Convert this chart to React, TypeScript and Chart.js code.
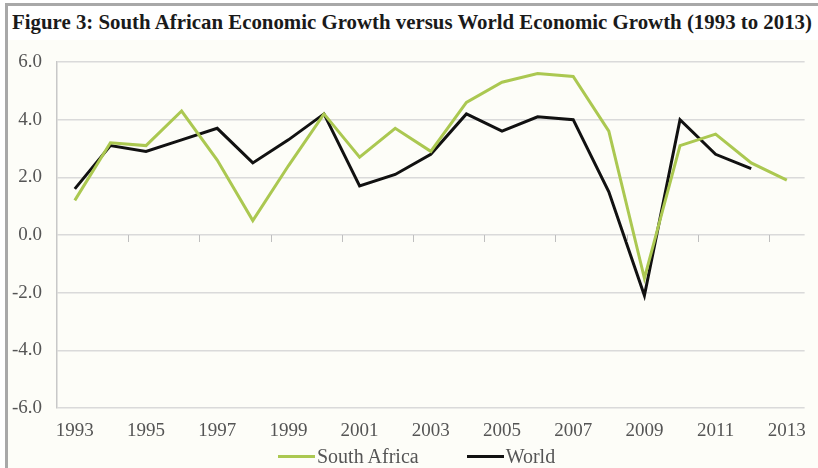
import React, { useEffect, useLayoutEffect, useRef, useState } from 'react';
import { Chart, registerables } from 'chart.js';

Chart.register(...registerables);

const TITLE = 'Figure 3: South African Economic Growth versus World Economic Growth (1993 to 2013)';

const years = [
  '1993', '1994', '1995', '1996', '1997', '1998', '1999', '2000', '2001', '2002', '2003',
  '2004', '2005', '2006', '2007', '2008', '2009', '2010', '2011', '2012', '2013',
];

const southAfrica = [
  1.2, 3.2, 3.1, 4.3, 2.6, 0.5, 2.4, 4.2, 2.7, 3.7, 2.9,
  4.6, 5.3, 5.6, 5.5, 3.6, -1.5, 3.1, 3.5, 2.5, 1.9,
];

const world = [
  1.6, 3.1, 2.9, 3.3, 3.7, 2.5, 3.3, 4.2, 1.7, 2.1, 2.8,
  4.2, 3.6, 4.1, 4.0, 1.5, -2.1, 4.0, 2.8, 2.3, null,
];

const yMin = -6;
const yMax = 6;
const yStep = 2;

const GREEN = '#abc851';
const BLACK = '#111111';
const GRID = '#dadada';
const TEXT = '#555555';
const FONT = '"Liberation Serif", "Times New Roman", "DejaVu Serif", serif';

// Short tick marks hanging below the zero line, every second category boundary
const zeroAxisTicks = {
  id: 'zeroAxisTicks',
  afterDatasetsDraw(chart: any) {
    const x = chart.scales.x;
    const y = chart.scales.y;
    const y0 = y.getPixelForValue(0);
    const half = (x.getPixelForValue(1) - x.getPixelForValue(0)) / 2;
    const ctx = chart.ctx;
    ctx.save();
    ctx.strokeStyle = '#bfbfbf';
    ctx.lineWidth = 1;
    ctx.beginPath();
    for (let i = 1; i < years.length - 1; i += 2) {
      const px = Math.round(x.getPixelForValue(i) + half) + 0.5;
      ctx.moveTo(px, y0);
      ctx.lineTo(px, y0 + 7);
    }
    ctx.stroke();
    ctx.restore();
  },
};

export default function App() {
  const canvasRef = useRef<HTMLCanvasElement | null>(null);
  const titleRef = useRef<HTMLSpanElement | null>(null);
  const [titleScale, setTitleScale] = useState(1);

  useLayoutEffect(() => {
    document.body.style.margin = '0';
    const el = titleRef.current;
    if (el) {
      const w = el.getBoundingClientRect().width / titleScale;
      if (w > 0) setTitleScale(800 / w);
    }
    // eslint-disable-next-line react-hooks/exhaustive-deps
  }, []);

  useEffect(() => {
    let chart: Chart | null = null;
    let cancelled = false;

    const build = () => {
      if (cancelled || !canvasRef.current) return;
      chart = new Chart(canvasRef.current, {
        type: 'line',
        data: {
          labels: years,
          datasets: [
            {
              label: 'South Africa',
              data: southAfrica,
              borderColor: GREEN,
              backgroundColor: GREEN,
              borderWidth: 3,
              pointRadius: 0,
              tension: 0,
            },
            {
              label: 'World',
              data: world,
              borderColor: BLACK,
              backgroundColor: BLACK,
              borderWidth: 3,
              pointRadius: 0,
              tension: 0,
            },
          ],
        },
        options: {
          animation: false,
          responsive: false,
          maintainAspectRatio: false,
          layout: { padding: { top: 62, right: 8, bottom: 18, left: 0 } },
          plugins: {
            legend: { display: false },
            title: { display: false },
            tooltip: { enabled: false },
          },
          scales: {
            x: {
              type: 'category',
              offset: true,
              grid: { display: false, drawTicks: false },
              border: { display: false },
              ticks: {
                autoSkip: false,
                maxRotation: 0,
                padding: 12,
                color: TEXT,
                font: { family: FONT, size: 19 },
                callback: (_v: any, i: number) => (i % 2 === 0 ? years[i] : ''),
              },
              afterFit: (s: any) => {
                s.height = 42;
              },
            },
            y: {
              min: yMin,
              max: yMax,
              grid: { color: GRID, lineWidth: 1.5, drawTicks: false },
              border: { display: true, color: '#c8c8c8', width: 1.5 },
              ticks: {
                stepSize: yStep,
                padding: 15,
                color: TEXT,
                font: { family: FONT, size: 19 },
                callback: (v: any) => Number(v).toFixed(1),
              },
              afterFit: (s: any) => {
                s.width = 57;
              },
            },
          },
        },
        plugins: [zeroAxisTicks],
      });
    };

    const fonts = (document as any).fonts;
    if (fonts && fonts.load) {
      Promise.all([
        fonts.load('19px "Liberation Serif"'),
        fonts.load('bold 22px "Liberation Serif"'),
      ])
        .catch(() => undefined)
        .then(build);
    } else {
      build();
    }

    return () => {
      cancelled = true;
      if (chart) chart.destroy();
    };
  }, []);

  return (
    <div
      style={{
        position: 'fixed',
        left: 0,
        top: 0,
        width: 818,
        height: 468,
        background: '#ffffff',
        overflow: 'hidden',
      }}
    >
      <div
        style={{
          position: 'absolute',
          left: 5,
          top: 3,
          right: 0,
          bottom: 0,
          borderLeft: '3px solid #a8a8a8',
          borderTop: '3px solid #a8a8a8',
          background: '#fdfdf8',
        }}
      />
      <div
        style={{
          position: 'absolute',
          left: 8,
          top: 6,
          right: 0,
          height: 34,
          background: '#ffffff',
        }}
      />
      <span
        ref={titleRef}
        style={{
          position: 'absolute',
          left: 12,
          top: 8,
          whiteSpace: 'nowrap',
          fontFamily: FONT,
          fontWeight: 'bold',
          fontSize: 22,
          lineHeight: '28px',
          color: '#1a1a1a',
          transformOrigin: '0 0',
          transform: `scaleX(${titleScale})`,
        }}
      >
        {TITLE}
      </span>
      <canvas
        ref={canvasRef}
        width={818}
        height={468}
        style={{ position: 'absolute', left: 0, top: 0, width: 818, height: 468 }}
      />
      <div
        style={{
          position: 'absolute',
          left: 278,
          top: 446,
          height: 20,
          display: 'flex',
          alignItems: 'center',
          fontFamily: FONT,
          fontSize: 20,
          lineHeight: '20px',
          color: TEXT,
          whiteSpace: 'nowrap',
        }}
      >
        <span style={{ display: 'inline-block', width: 37, height: 3, background: GREEN, marginRight: 2 }} />
        <span>South Africa</span>
        <span style={{ display: 'inline-block', width: 37, height: 3, background: BLACK, marginLeft: 48, marginRight: 2 }} />
        <span>World</span>
      </div>
    </div>
  );
}
